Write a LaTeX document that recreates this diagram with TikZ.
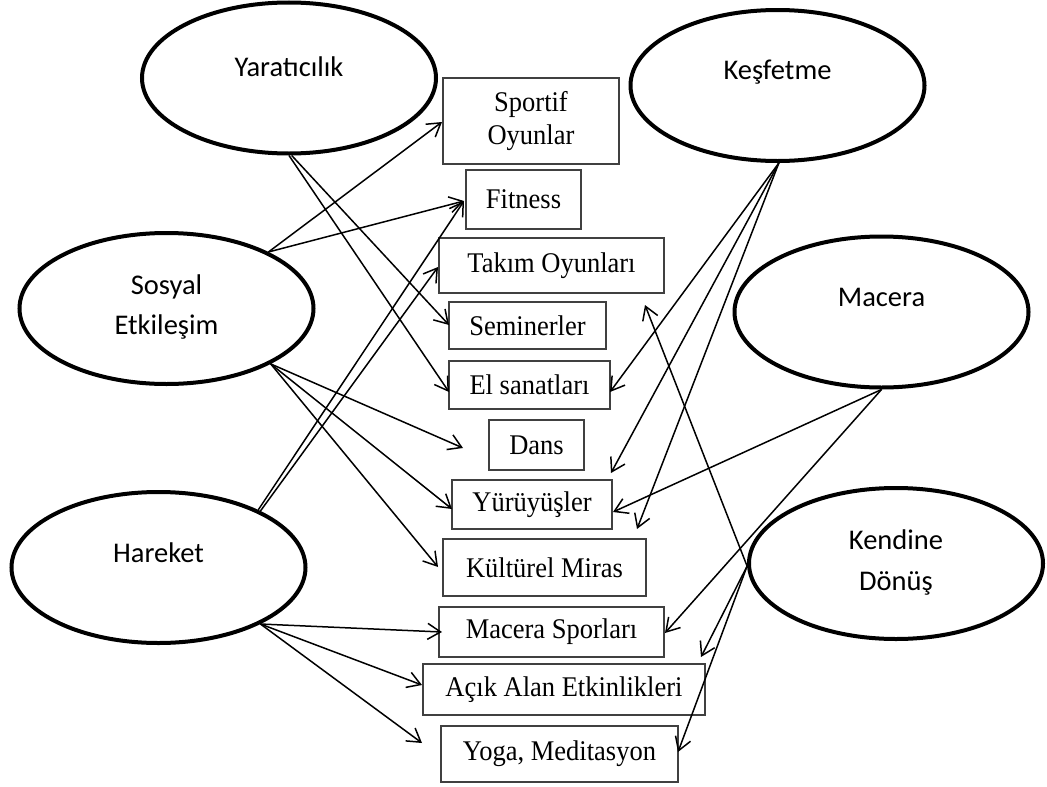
\documentclass[tikz,border=0pt]{standalone}
\usepackage{fontspec}
\setmainfont{Liberation Serif}[FakeStretch=0.93]
\newfontfamily\ovalfont{Carlito}
\usetikzlibrary{arrows.meta,shapes.geometric}
\begin{document}
\begin{tikzpicture}[x=1pt,y=-1pt,
  oval/.style={ellipse, draw, line width=4pt, minimum width=294pt,
    minimum height=151pt, inner sep=0pt},
  ovaltext/.style={font=\ovalfont\fontsize{28.5}{40.5}\selectfont, align=center, inner sep=0pt},
  activity/.style={rectangle, draw=black!75, line width=1.3pt, inner sep=0pt,
    font=\fontsize{28.5}{33}\selectfont, align=center},
  link/.style={line width=1.5pt, -{Straight Barb[length=13pt,width=16pt]}}]
\useasboundingbox (0,0) rectangle (1047,787);

% themes (ellipses)
\node[oval] (yar) at (289,78) {};
\node[ovaltext] (yar-t) at (289,67) {Yaratıcılık};
\node[oval] (kes) at (777.5,85.5) {};
\node[ovaltext] (kes-t) at (777.5,72) {Keşfetme};
\node[oval] (sos) at (166.5,308.5) {};
\node[ovaltext] (sos-t) at (166.5,307) {Sosyal\\Etkileşim};
\node[oval] (har) at (158.5,567.5) {};
\node[ovaltext] (har-t) at (158.5,553) {Hareket};
\node[oval] (mac) at (881.5,312) {};
\node[ovaltext] (mac-t) at (881.5,297) {Macera};
\node[oval] (ken) at (896,563.5) {};
\node[ovaltext] (ken-t) at (896,562.5) {Kendine\\Dönüş};

% activities (boxes)
\node[activity, minimum width=176pt, minimum height=86pt] (spo) at (531,121) {Sportif\\Oyunlar};
\node[activity, minimum width=115pt, minimum height=59pt] (fit) at (523.5,199.5) {Fitness};
\node[activity, minimum width=225pt, minimum height=55pt] (tak) at (551.5,265.5) {Takım Oyunları};
\node[activity, minimum width=157pt, minimum height=47pt] (sem) at (527.5,325.5) {Seminerler};
\node[activity, minimum width=161pt, minimum height=48pt] (els) at (529.5,385) {El sanatları};
\node[activity, minimum width=95pt, minimum height=50pt] (dan) at (536.5,445) {Dans};
\node[activity, minimum width=160pt, minimum height=49pt] (yur) at (532,504.5) {Yürüyüşler};
\node[activity, minimum width=203pt, minimum height=57pt] (kul) at (544.5,567.5) {Kültürel Miras};
\node[activity, minimum width=225pt, minimum height=50pt] (msp) at (551.5,632) {Macera Sporları};
\node[activity, minimum width=282pt, minimum height=51pt] (aci) at (564,689.5) {Açık Alan Etkinlikleri};
\node[activity, minimum width=237pt, minimum height=56pt] (yog) at (559.5,754) {Yoga, Meditasyon};

% arrow tips beside the boxes
\coordinate (sem-w) at (449,325);
\coordinate (els-w) at (449,392);
\coordinate (spo-w) at (442,122);
\coordinate (fit-w) at (464,201);
\coordinate (dan-w) at (463,448);
\coordinate (yur-w) at (452,509);
\coordinate (kul-w) at (438,567);
\coordinate (tak-w) at (438,267);
\coordinate (msp-w) at (442,632);
\coordinate (aci-w) at (422,685);
\coordinate (yog-w) at (422,743);
\coordinate (els-e) at (610,392);
\coordinate (yur-ne) at (611,473);
\coordinate (kul-ne) at (637,529);
\coordinate (yur-e) at (613,512);
\coordinate (msp-e) at (665,633);
\coordinate (tak-se) at (645,305);
\coordinate (aci-ne) at (701,657);
\coordinate (yog-e) at (678,752);

% links
\draw[link] (yar.-88) -- (sem-w);
\draw[link] (yar.-90) -- (els-w);
\draw[link] (sos.29) -- (spo-w);
\draw[link] (sos.29) -- (fit-w);
\draw[link] (sos.-28) -- (dan-w);
\draw[link] (sos.-28) -- (yur-w);
\draw[link] (sos.-28) -- (kul-w);
\draw[link] (har.30) -- (fit-w);
\draw[link] (har.29) -- (tak-w);
\draw[link] (har.-29) -- (msp-w);
\draw[link] (har.-29) -- (aci-w);
\draw[link] (har.-29) -- (yog-w);
\draw[link] (kes.-89.5) -- (els-e);
\draw[link] (kes.-89.5) -- (yur-ne);
\draw[link] (kes.-89) -- (kul-ne);
\draw[link] (mac.-90) -- (yur-e);
\draw[link] (mac.-90) -- (msp-e);
\draw[link] (ken.181) -- (tak-se);
\draw[link] (ken.181) -- (aci-ne);
\draw[link] (ken.181) -- (yog-e);
\end{tikzpicture}
\end{document}
